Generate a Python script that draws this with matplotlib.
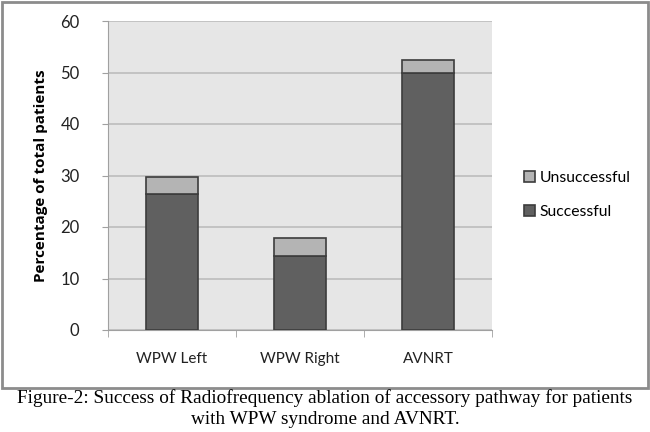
import numpy as np
import matplotlib.pyplot as plt
from matplotlib.patches import Rectangle

categories = ["WPW Left", "WPW Right", "AVNRT"]
successful = [26.4, 14.3, 50.0]
unsuccessful = [3.4, 3.6, 2.5]
yticks = [0, 10, 20, 30, 40, 50, 60]

fig = plt.figure(figsize=(6.5, 4.32), dpi=100)
ax = fig.add_axes([108/650, 1-330/432, (492-108)/650, (330-21)/432])

x = np.arange(len(categories))
ax.set_facecolor("#e6e6e6")
ax.bar(x, successful, width=0.4, color="#606060", edgecolor="#3c3c3c", linewidth=1.2,
       label="Successful", zorder=3)
ax.bar(x, unsuccessful, width=0.4, bottom=successful, color="#b4b4b4", edgecolor="#3c3c3c",
       linewidth=1.2, label="Unsuccessful", zorder=3)

ax.set_xlim(-0.5, 2.5)
ax.set_ylim(0, 60)
ax.set_yticks(yticks)
ax.yaxis.grid(True, color="#bdbdbd", linewidth=1.2, zorder=0)
ax.set_axisbelow(True)

ax.set_xticks(x)
ax.set_xticklabels(categories, fontsize=11, family="Lato", color="#222222")
ax.set_xticks([-0.5, 0.5, 1.5, 2.5], minor=True)
ax.tick_params(axis="x", which="major", length=0, pad=16)
ax.tick_params(axis="x", which="minor", length=5, color="#a0a0a0")
ax.tick_params(axis="y", length=4.5, color="#a0a0a0", pad=16, labelsize=12)
for lab in ax.get_yticklabels():
    lab.set_family("Lato")
    lab.set_color("#222222")

for side in ["top", "right"]:
    ax.spines[side].set_visible(False)
ax.spines["left"].set_color("#a0a0a0")
ax.spines["bottom"].set_color("#a0a0a0")

ax.set_ylabel("Percentage of total patients", fontsize=11, fontweight="bold",
              family="Open Sans", labelpad=9)

handles, labels = ax.get_legend_handles_labels()
leg = fig.legend(handles[::-1], labels[::-1], loc="center left",
                 bbox_to_anchor=(510/650, 1-195/432), frameon=False,
                 handlelength=0.7, handleheight=0.7, handletextpad=0.3,
                 labelspacing=1.25, prop={"family": "Lato", "size": 11.3})

# outer frame of the chart
fig.patches.append(Rectangle((2/650, 1-388/432), 646/650, 386/432, transform=fig.transFigure,
                             fill=False, edgecolor="#8c8c8c", linewidth=2))

fig.text(0.5, 1-398/432, "Figure-2: Success of Radiofrequency ablation of accessory pathway for patients",
         ha="center", va="center", family="Liberation Serif", fontsize=13.9)
fig.text(0.5, 1-419/432, "with WPW syndrome and AVNRT.",
         ha="center", va="center", family="Liberation Serif", fontsize=13.9)

fig.savefig("out.png", dpi=100)
